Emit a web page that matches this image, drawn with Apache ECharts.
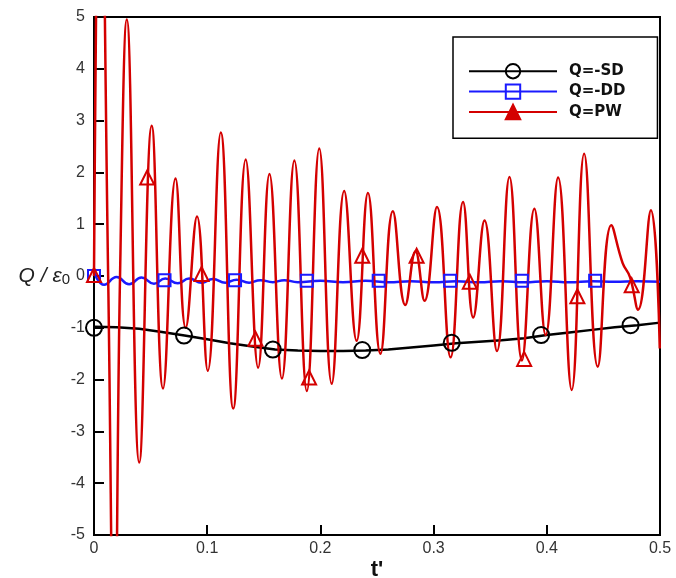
<!DOCTYPE html>
<html>
<head>
<meta charset="utf-8">
<script src="https://cdn.jsdelivr.net/npm/echarts@6/dist/echarts.min.js"></script>
<style>
  html, body { margin: 0; padding: 0; background: #fff; }
  #chart { width: 676px; height: 578px; }
</style>
</head>
<body>
<div id="chart"></div>
<script>
// ---- data ----
const xTickLabels = ['0', '0.1', '0.2', '0.3', '0.4', '0.5'];
const yTickLabels = ['-5', '-4', '-3', '-2', '-1', '0', '1', '2', '3', '4', '5'];

// Q=-SD (black)
const sdT = [0, 0.02, 0.04, 0.06, 0.08, 0.10, 0.12, 0.14, 0.16, 0.18, 0.20, 0.22, 0.24, 0.26, 0.28, 0.30, 0.32, 0.34, 0.36, 0.38, 0.40, 0.42, 0.44, 0.46, 0.48, 0.50];
const sdV = [-0.98, -0.99, -1.02, -1.08, -1.15, -1.22, -1.3, -1.36, -1.42, -1.44, -1.45, -1.45, -1.44, -1.42, -1.38, -1.34, -1.3, -1.27, -1.24, -1.2, -1.14, -1.09, -1.04, -0.99, -0.95, -0.9];
const sdMarkT = [0, 0.0795, 0.158, 0.237, 0.316, 0.395, 0.474];
const sdMarkV = [-1.0, -1.15, -1.42, -1.43, -1.29, -1.14, -0.95];

// Q=-DD (blue)
const ddT = [0, 0.009, 0.02, 0.031, 0.042, 0.053, 0.063, 0.074, 0.084, 0.095, 0.105, 0.116, 0.126, 0.137, 0.147, 0.158, 0.168, 0.18, 0.2, 0.22, 0.24, 0.26, 0.28, 0.3, 0.32, 0.34, 0.36, 0.38, 0.4, 0.42, 0.44, 0.46, 0.48, 0.5];
const ddV = [0.08, -0.17, -0.02, -0.16, -0.03, -0.15, -0.05, -0.14, -0.05, -0.13, -0.06, -0.13, -0.07, -0.13, -0.08, -0.12, -0.08, -0.12, -0.09, -0.12, -0.09, -0.12, -0.1, -0.12, -0.1, -0.12, -0.1, -0.12, -0.1, -0.12, -0.1, -0.11, -0.1, -0.11];
const ddMarkT = [0, 0.0623, 0.1246, 0.188, 0.2515, 0.3146, 0.378, 0.4427];
const ddMarkV = [0.0, -0.08, -0.08, -0.09, -0.09, -0.09, -0.09, -0.09];

// Q=PW (red)
const pwT = [0, 0.0055, 0.0125, 0.018, 0.023, 0.029, 0.040, 0.051, 0.061, 0.072, 0.081, 0.091, 0.1005, 0.112, 0.123, 0.134, 0.145, 0.155, 0.166, 0.177, 0.188, 0.199, 0.210, 0.221, 0.232, 0.242, 0.253, 0.264, 0.275, 0.284, 0.292, 0.303, 0.315, 0.326, 0.335, 0.345, 0.356, 0.367, 0.378, 0.389, 0.399, 0.410, 0.422, 0.433, 0.445, 0.457, 0.467, 0.4735, 0.4806, 0.492, 0.4998];
const pwV = [0, 9.5, 0, -8, 0, 4.95, -3.6, 2.9, -2.17, 1.88, -1.0, 1.15, -1.83, 2.77, -2.56, 2.25, -1.77, 1.97, -1.98, 2.23, -2.22, 2.46, -2.08, 1.64, -1.25, 1.6, -1.5, 1.25, -0.56, 0.48, -0.48, 1.33, -1.57, 1.43, -0.8, 1.07, -1.45, 1.91, -1.63, 1.3, -1.14, 1.9, -2.2, 2.36, -1.75, 0.98, 0.25, -0.02, -0.65, 1.27, -1.4];
const pwMarkT = [0, 0.047, 0.095, 0.1426, 0.19, 0.237, 0.285, 0.332, 0.38, 0.427, 0.475];
const pwMarkV = [0.02, 1.9, 0.04, -1.21, -1.96, 0.39, 0.39, -0.11, -1.6, -0.39, -0.18];

const seriesNames = ['Q=-SD', 'Q=-DD', 'Q=PW'];
const colors = ['#000000', '#1a1aff', '#d40000'];

const zip = (a, b) => a.map((v, i) => [v, b[i]]);

const chart = echarts.init(document.getElementById('chart'), null, { renderer: 'canvas' });

const lineSeries = (name, t, v, color, symbol, smooth) => ({
  name, type: 'line', data: zip(t, v),
  smooth, showSymbol: false, symbol, symbolSize: 14,
  lineStyle: { color, width: 2.5 },
  itemStyle: { color, borderColor: color, borderWidth: 2 },
  clip: true, animation: false, z: 2
});
const markSeries = (name, t, v, color, symbol, size) => ({
  name, type: 'scatter', data: zip(t, v), symbol, symbolSize: size,
  itemStyle: { color: 'rgba(0,0,0,0)', borderColor: color, borderWidth: 2, opacity: 1 },
  clip: true, animation: false, z: 4, silent: true
});

chart.setOption({
  backgroundColor: '#fff',
  animation: false,
  grid: { left: 94, right: 16, top: 17, bottom: 43, containLabel: false, outerBoundsMode: 'none',
    show: true, borderColor: '#000', borderWidth: 2, backgroundColor: 'transparent' },
  legend: {
    data: [
      { name: seriesNames[0] },
      { name: seriesNames[1] },
      { name: seriesNames[2], itemStyle: { color: colors[2] } }
    ],
    orient: 'vertical', left: 453, top: 37,
    itemWidth: 88, itemHeight: 18, itemGap: 4,
    padding: [26, 32, 18, 15],
    borderColor: '#000', borderWidth: 1.5, backgroundColor: '#fff',
    itemStyle: { color: 'rgba(0,0,0,0)', borderWidth: 2 },
    textStyle: { fontFamily: 'DejaVu Sans', fontWeight: 'bold', fontSize: 15, color: '#111', padding: [0, 0, 0, 7] },
    selectedMode: false
  },
  xAxis: {
    type: 'value', min: 0, max: 0.5, interval: 0.1,
    name: "t'", nameLocation: 'middle', nameGap: 24, nameMoveOverlap: false,
    nameTextStyle: { fontFamily: 'Liberation Sans', fontWeight: 'bold', fontSize: 22, color: '#111' },
    axisLine: { show: true, onZero: false, lineStyle: { color: '#000', width: 2 } },
    axisTick: { show: true, inside: true, length: 10, lineStyle: { color: '#000', width: 2 } },
    axisLabel: { fontFamily: 'Liberation Sans', fontSize: 16, color: '#333', margin: 6,
      formatter: v => xTickLabels[Math.round(v / 0.1)] },
    splitLine: { show: false }
  },
  yAxis: {
    type: 'value', min: -5, max: 5, interval: 1,
    name: '{q|Q / ε}{s|0}', nameLocation: 'middle', nameRotate: 0, nameGap: 24, nameMoveOverlap: false,
    nameTextStyle: {
      rich: {
        q: { fontFamily: 'Liberation Sans', fontStyle: 'italic', fontSize: 21, color: '#222' },
        s: { fontFamily: 'Liberation Sans', fontSize: 15, color: '#222', padding: [8, 0, 0, 0] }
      }
    },
    axisLine: { show: true, onZero: false, lineStyle: { color: '#000', width: 2 } },
    axisTick: { show: true, inside: true, length: 10, lineStyle: { color: '#000', width: 2 } },
    axisLabel: { fontFamily: 'Liberation Sans', fontSize: 16, color: '#333', margin: 9,
      formatter: v => yTickLabels[Math.round(v + 5)] },
    splitLine: { show: false }
  },
  series: [
    lineSeries(seriesNames[0], sdT, sdV, colors[0], 'circle', false),
    lineSeries(seriesNames[1], ddT, ddV, colors[1], 'rect', 0.5),
    lineSeries(seriesNames[2], pwT, pwV, colors[2], 'triangle', 0.45),
    markSeries('sd-markers', sdMarkT, sdMarkV, colors[0], 'circle', 16),
    markSeries('dd-markers', ddMarkT, ddMarkV, colors[1], 'rect', 12),
    markSeries('pw-markers', pwMarkT, pwMarkV, colors[2], 'triangle', 14)
  ]
});
</script>
</body>
</html>
